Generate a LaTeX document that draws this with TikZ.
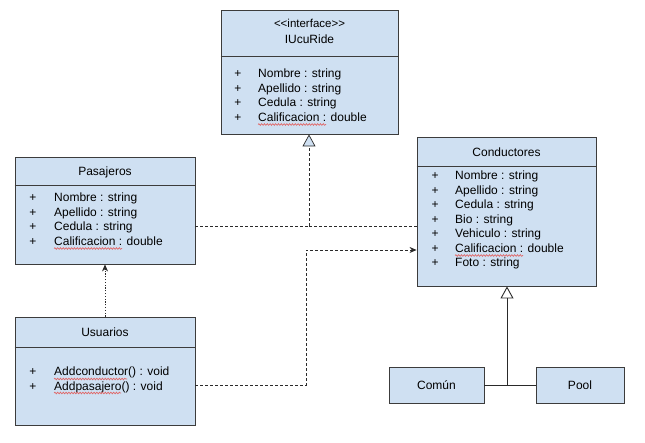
\documentclass[tikz,border=0pt]{standalone}
\usepackage{fontspec}
\setmainfont{Liberation Sans}
\usetikzlibrary{arrows.meta,positioning,calc,decorations.pathmorphing}
\definecolor{BoxFill}{HTML}{CFE0F2}
\definecolor{BoxLine}{HTML}{3C3C3C}
\definecolor{Wire}{HTML}{2A2A2A}
\definecolor{Spell}{HTML}{E06666}

\newlength\spellw
\newcommand\umlfont{\fontsize{12}{14}\selectfont}

\begin{document}
\begin{tikzpicture}[x=1pt,y=-1pt,
  umlbox/.style={draw=BoxLine,fill=BoxFill,line width=0.9pt,inner sep=0pt},
  divider/.style={BoxLine,line width=0.9pt},
  title/.style={font=\umlfont,inner sep=0pt},
  attr/.style={font=\umlfont,anchor=base west,inner sep=0pt},
  plus/.style={font=\umlfont,anchor=base,inner sep=0pt},
  spelling/.style={Spell,line width=0.7pt,decorate,
    decoration={snake,amplitude=0.8pt,segment length=2.8pt}},
  realize/.style={Wire,line width=0.7pt,dash pattern=on 3pt off 2pt},
  depend/.style={Wire,line width=0.7pt,dash pattern=on 1.2pt off 1.6pt},
  generalize/.style={Wire,line width=0.9pt}]
\useasboundingbox[fill=white] (0,0) rectangle (645,443);

% boxes
\node[umlbox,minimum width=177,minimum height=124] (iucu) at (309.5,72) {};
\node[umlbox,minimum width=180,minimum height=107] (pasaj) at (105,210.5) {};
\node[umlbox,minimum width=179,minimum height=149] (cond) at (506.5,211.5) {};
\node[umlbox,minimum width=180,minimum height=108] (usu) at (105,371) {};
\node[umlbox,minimum width=95,minimum height=36] (comun) at (436.5,385) {};
\node[umlbox,minimum width=88,minimum height=36] (pool) at (580,385) {};

\draw[divider] (iucu.west |- 0,56) -- (iucu.east |- 0,56);
\draw[divider] (pasaj.west |- 0,185) -- (pasaj.east |- 0,185);
\draw[divider] (cond.west |- 0,166) -- (cond.east |- 0,166);
\draw[divider] (usu.west |- 0,347) -- (usu.east |- 0,347);

% titles
\node[title,font=\fontsize{11.5}{13}\selectfont] (iucustereo) at (309.5,23) {<{}<interface>{}>};
\node[title] (iucutitle) at (309.5,39) {IUcuRide};
\node[title] (pasajtitle) at (105,172) {Pasajeros};
\node[title] (condtitle) at (506.5,152) {Conductores};
\node[title] (usutitle) at (105,332) {Usuarios};
\node[title] (comuntitle) at (comun) {Común};
\node[title] (pooltitle) at (pool) {Pool};

% members
\foreach \txt [count=\i] in {Nombre : string,Apellido : string,Cedula : string,Calificacion : double}{
  \node[plus] (iucup\i) at (238,78+14.5*\i-14.5) {+};
  \node[attr] (iucua\i) at (258,78+14.5*\i-14.5) {\txt};
}
\foreach \txt [count=\i] in {Nombre : string,Apellido : string,Cedula : string,Calificacion : double}{
  \node[plus] (pasajp\i) at (33,202+14.5*\i-14.5) {+};
  \node[attr] (pasaja\i) at (54,202+14.5*\i-14.5) {\txt};
}
\foreach \txt [count=\i] in {Nombre : string,Apellido : string,Cedula : string,Bio : string,Vehiculo : string,Calificacion : double,Foto : string}{
  \node[plus] (condp\i) at (435,180+14.5*\i-14.5) {+};
  \node[attr] (conda\i) at (455,180+14.5*\i-14.5) {\txt};
}
\foreach \txt [count=\i] in {Addconductor() : void,Addpasajero() : void}{
  \node[plus] (usup\i) at (33,376+14*\i-14) {+};
  \node[attr] (usua\i) at (54,376+14*\i-14) {\txt};
}

% spelling marks
\draw[spelling] ([yshift=-3pt]iucua4.base west) -- ++(68,0);
\draw[spelling] ([yshift=-3pt]pasaja4.base west) -- ++(68,0);
\draw[spelling] ([yshift=-3pt]conda6.base west) -- ++(68,0);
\draw[spelling] ([yshift=-3pt]usua1.base west) -- ++(73,0);
\draw[spelling] ([yshift=-3pt]usua2.base west) -- ++(67,0);

% connectors
\coordinate (join) at (309,226);
\coordinate (bend1) at (306,385);
\coordinate (bend2) at (306,250);
\coordinate (fork) at (507,385);
\draw[realize] (pasaj.east |- join) -- (join);
\draw[realize] (cond.west |- join) -- (join);
\draw[realize,-{Triangle[open,fill=BoxFill,width=13pt,length=12pt]}] (join) -- (iucu.south -| join);
\draw[realize,-{Stealth[length=7pt,width=6pt]}] (usu.east |- bend1) -- (bend1) -- (bend2) -- (cond.west |- bend2);
\draw[depend,-{Stealth[length=7pt,width=6pt]}] (usu.north) -- (pasaj.south);
\draw[generalize] (comun.east) -- (pool.west);
\draw[generalize,-{Triangle[open,fill=white,width=13pt,length=12pt]}] (fork) -- (cond.south -| fork);
\end{tikzpicture}
\end{document}
